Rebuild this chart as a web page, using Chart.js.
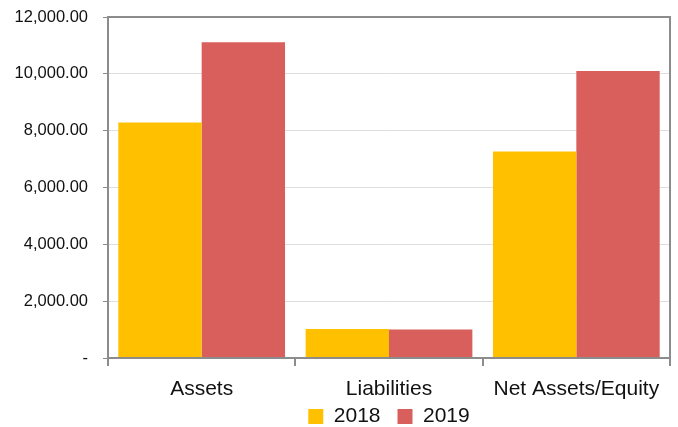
<!DOCTYPE html>
<html>
<head>
<meta charset="utf-8">
<script src="https://cdn.jsdelivr.net/npm/chart.js@4/dist/chart.umd.min.js"></script>
<style>
  html, body { margin: 0; padding: 0; background: #fff; }
  #wrap { width: 678px; height: 427px; }
</style>
</head>
<body>
<div id="wrap"><canvas id="chart" width="678" height="427"></canvas></div>
<script>
// datos
const categorias = ['Assets', 'Liabilities', 'Net Assets/Equity'];
const valores2018 = [8290, 1020, 7270];
const valores2019 = [11110, 1000, 10100];
const etiquetasSerie = ['2018', '2019'];

const FUENTE = "'Liberation Sans', 'DejaVu Sans', sans-serif";
const GRIS_EJE = '#8c8c8c';
const ALTO_LEYENDA = 25;

// marco completo del área de trazado + leyenda de altura fija
const marco = {
  id: 'marco',
  beforeLayout(chart) {
    const lg = chart.legend;
    if (lg && !lg._fijo) {
      const fitOrig = lg.fit.bind(lg);
      lg.fit = function () { fitOrig(); this.height = ALTO_LEYENDA; };
      lg._fijo = true;
    }
  },
  afterLayout(chart) {
    // el padding de la leyenda también la baja; se compensa subiendo su borde superior
    const lg = chart.legend;
    if (lg) { lg.top -= 13; lg.height = lg.bottom - lg.top; }
  },
  afterDraw(chart) {
    const { ctx, chartArea: a } = chart;
    ctx.save();
    ctx.strokeStyle = GRIS_EJE;
    ctx.lineWidth = 2;
    ctx.strokeRect(a.left, a.top, a.right - a.left, a.bottom - a.top);
    ctx.restore();
  }
};

function fmt(v) {
  if (v === 0) return '-';
  return v.toLocaleString('en-US', { minimumFractionDigits: 2, maximumFractionDigits: 2 });
}

new Chart(document.getElementById('chart'), {
  type: 'bar',
  data: {
    labels: categorias,
    datasets: [
      { label: etiquetasSerie[0], data: valores2018, backgroundColor: '#FFC000', categoryPercentage: 0.89, barPercentage: 1.0 },
      { label: etiquetasSerie[1], data: valores2019, backgroundColor: '#D95F5C', categoryPercentage: 0.89, barPercentage: 1.0 }
    ]
  },
  options: {
    responsive: false,
    animation: false,
    layout: { padding: { top: 0, right: 8, left: 0, bottom: 0 } },
    plugins: {
      tooltip: { enabled: false },
      legend: {
        position: 'bottom',
        fullSize: false,
        labels: { boxWidth: 15, boxHeight: 15, padding: 17, color: '#111', font: { family: FUENTE, size: 21 } }
      }
    },
    scales: {
      y: {
        min: 0, max: 12000,
        ticks: { stepSize: 2000, padding: 15, color: '#111', font: { family: FUENTE, size: 16.5 }, callback: v => fmt(v) },
        grid: { color: '#dedede', tickColor: GRIS_EJE, tickLength: 5 },
        border: { color: GRIS_EJE, width: 2 },
        afterFit(s) { s.width = 108; s.paddingTop = 17; }
      },
      x: {
        ticks: { padding: 11, color: '#111', font: { family: FUENTE, size: 21 } },
        grid: { offset: true, drawOnChartArea: false, tickColor: GRIS_EJE, tickLength: 8, lineWidth: 2 },
        border: { color: GRIS_EJE, width: 2 },
        afterFit(s) { s.height = 44; }
      }
    }
  },
  plugins: [marco]
});
</script>
</body>
</html>
